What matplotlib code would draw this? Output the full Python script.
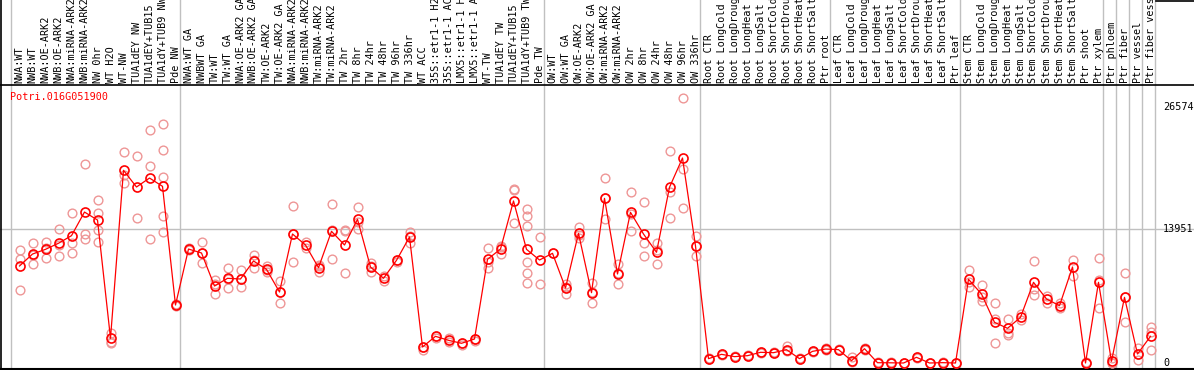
import matplotlib
matplotlib.use("Agg")
import matplotlib.pyplot as plt
import matplotlib.transforms as mtransforms

# sample labels, left to right
labels = [
    "NWA:WT", "NWB:WT", "NWA:OE-ARK2", "NWB:OE-ARK2", "NWA:miRNA-ARK2", "NWB:miRNA-ARK2",
    "NW 0hr", "WT H2O", "WT-NW", "TUA1dEY NW", "TUA1dEY+TUB15", "TUA1dY+TUB9 NW", "Pde NW",
    "NWA:WT GA", "NWBWT GA", "TW:WT", "TW:WT GA", "NWA:OE-ARK2 GA", "NWB:OE-ARK2 GA",
    "TW:OE-ARK2", "TW:OE-ARK2 GA", "NWA:miRNA-ARK2", "NWB:miRNA-ARK2", "TW:miRNA-ARK2",
    "TW:miRNA-ARK2", "TW 2hr", "TW 8hr", "TW 24hr", "TW 48hr", "TW 96hr", "TW 336hr",
    "WT ACC", "35S::etr1-1 H2O", "35S::etr1-1 ACC", "LMX5::etr1-1 H2O", "LMX5::etr1-1 ACC",
    "WT-TW", "TUA1dEY TW", "TUA1dEY+TUB15", "TUA1dY+TUB9 TW", "Pde TW",
    "OW:WT", "OW:WT GA", "OW:OE-ARK2", "OW:OE-ARK2 GA", "OW:miRNA-ARK2", "OW:miRNA-ARK2",
    "OW 2hr", "OW 8hr", "OW 24hr", "OW 48hr", "OW 96hr", "OW 336hr",
    "Root CTR", "Root LongCold", "Root LongDrought", "Root LongHeat", "Root LongSalt",
    "Root ShortCold", "Root ShortDrought", "Root ShortHeat", "Root ShortSalt", "Ptr root",
    "Leaf CTR", "Leaf LongCold", "Leaf LongDrought", "Leaf LongHeat", "Leaf LongSalt",
    "Leaf ShortCold", "Leaf ShortDrought", "Leaf ShortHeat", "Leaf ShortSalt", "Ptr leaf",
    "Stem CTR", "Stem LongCold", "Stem LongDrought", "Stem LongHeat", "Stem LongSalt",
    "Stem ShortCold", "Stem ShortDrought", "Stem ShortHeat", "Stem ShortSalt", "Ptr shoot",
    "Ptr xylem", "Ptr phloem", "Ptr fiber", "Ptr vessel", "Ptr fiber vessel",
]

# mean expression per sample
means = [
    10070, 11310, 11800, 12430, 13220, 15670, 14840, 2560, 20000, 18270, 19200, 18340, 6020,
    11830, 11420, 7990, 8790, 8720, 10590, 9725, 7370, 13390, 12250, 9895, 13670, 12250,
    14915, 9965, 8790, 10660, 13080, 1660, 2770, 2355, 2045, 2490, 10760, 11830, 16820,
    11800, 10690,
    11385, 7785, 13460, 7300, 17090, 9240, 15640, 13390, 11490, 18240, 21280, 12145,
    450, 900, 660, 760, 1110, 1070, 1385, 450, 1210, 1450,
    1385, 240, 1485, 30, 20, 0, 590, 0, 35, 0,
    8690, 7160, 4225, 3600, 4740, 8375, 6645, 5950, 9965, 0, 8375,
    175, 6815, 935, 2770,
]

# individual replicates per sample
replicates = [
    [11730, 10795, 7577], [12425, 10277, 11240], [12560, 10866, 11970], [13909, 11072, 12300],
    [15538, 12490, 11383], [20625, 13390, 12840], [16919, 15600, 13805, 12530], [3080, 2215, 2045],
    [21900, 19480, 18650], [21490, 15050], [24150, 20420, 12870],
    [24780, 22080, 19280, 15260, 13600], [6120, 5920],
    [11900, 11760], [12530, 10380, 11400], [8615, 7160, 8200], [9860, 7785, 8730],
    [9620, 7860, 8680], [11240, 9830, 10700], [10100, 9400, 9675], [8540, 6200, 7370],
    [16300, 10450, 13420], [12590, 11900], [9480, 10170, 10030], [16470, 10760, 13780],
    [13805, 13700, 9340], [16190, 13880, 14680], [10410, 9480, 10100], [8550, 9030],
    [10660, 10500], [13600, 12490, 13150], [1350, 1660], [2770, 2600], [2560, 2150],
    [2045, 1900], [2490, 2320], [11940, 9890, 10450], [12070, 11310, 12110],
    [18060, 17960, 14500], [16020, 15260, 14220, 10450, 9340, 8300], [13080, 8200],
    [11385], [8240, 7190, 7920], [14150, 12950, 13280], [8340, 6200, 7360],
    [19170, 14980, 17120], [10245, 8170, 9300], [17720, 13700, 15500], [16680, 12425, 11075],
    [12455, 10275, 11740], [22005, 17720, 15050], [27475, 20140, 16060], [13215, 11105, 12110],
    [520, 380], [980, 820], [700, 610], [820, 700], [1180, 1040], [1130, 1000], [1765, 1200],
    [520, 400], [1280, 1150], [1520, 1390],
    [1460, 1310], [655, 100], [1560, 1400], [90, 0], [80, 0], [40, 0], [660, 520], [50, 0],
    [90, 0], [30, 0],
    [9620, 8400, 7860], [8065, 6885, 6470], [6200, 4535, 2045], [4535, 3150, 2905],
    [5085, 4465], [10555, 7650, 7060], [6990, 6200], [6200, 5680], [10690, 9060],
    [140, 0], [10865, 5680, 8580],
    [480, 0, 50], [9310, 4225, 6900], [1525, 310, 970], [3735, 3250, 1315],
]

group_sizes = [13, 28, 12, 10, 10, 11, 1, 1, 1, 1]
ticks = [26574, 13951, 0]
gene = "Potri.016G051900"

W, H = 1194, 370
fig = plt.figure(figsize=(W / 100, H / 100), dpi=100)
ax = fig.add_axes([0, 0, 1, 1])
ax.set_axis_off()

# 13 px per sample, first sample at px 19.5; 0 at px 363, 26574 at px 107
px_per_unit = 256 / 26574
ax.set_xlim(-19.5 / 13, (W - 19.5) / 13)
ax.set_ylim(-(H - 363) / px_per_unit, 363 / px_per_unit)

header_y = 1 - 85 / H
grey = "#c0c0c0"
mono = "DejaVu Sans Mono"

# group separators
end = -1
ax.axvline(end + 0.35, color=grey, lw=1)
for g in group_sizes:
    end += g
    ax.axvline(end + 0.35, color=grey, lw=1)

ax.axhline(ticks[1], color=grey, lw=1)

# frame lines
ax.plot([0, 1], [header_y, header_y], color="black", lw=1.2, transform=ax.transAxes)
ax.plot([1 / W, 1 / W], [0, 1], color="black", lw=1.2, transform=ax.transAxes)
ax.plot([0, 1], [0.6 / H, 0.6 / H], color="black", lw=1.5, transform=ax.transAxes)
ax.plot([(1156) / W, 1], [1 - 0.5 / H, 1 - 0.5 / H], color="black", lw=1.2,
        transform=ax.transAxes)

# replicates
xs = list(range(len(means)))
rx, ry = [], []
for i, reps in enumerate(replicates):
    for r in reps:
        rx.append(i)
        ry.append(r)
ax.plot(rx, ry, "o", ms=6.3, mfc="none", mec="#ee9696", mew=1.0, zorder=3)

# means
ax.plot(xs, means, "-", color="#ff0000", lw=0.9, zorder=4)
ax.plot(xs, means, "o", ms=6.5, mfc="none", mec="#ff0000", mew=1.2, zorder=5)

# sample labels in the header
trans = mtransforms.blended_transform_factory(ax.transData, ax.transAxes)
for i, lab in enumerate(labels):
    ax.text(i, header_y + 2 / H, lab, rotation=90, ha="center", va="bottom",
            family=mono, fontsize=7.3, transform=trans)

ax.text(10 / W, 1 - 97 / H, gene, color="#ff0000", family=mono, fontsize=7.3,
        ha="left", va="center", transform=ax.transAxes)

# value labels on the right
ytrans = mtransforms.blended_transform_factory(ax.transAxes, ax.transData)
for t in ticks:
    ax.text(1163 / W, t, str(t), family=mono, fontsize=7.3, ha="left", va="center",
            transform=ytrans)

fig.savefig("out.png", dpi=100)
